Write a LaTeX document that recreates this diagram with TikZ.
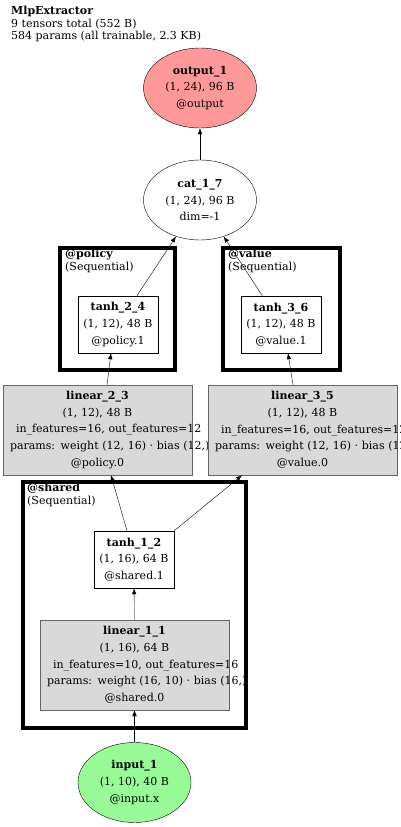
\documentclass[tikz,border=0pt]{standalone}
\usepackage{fontspec}
\setmainfont{DejaVu Serif}
\usetikzlibrary{arrows.meta,shapes.geometric}
\definecolor{OutRed}{HTML}{FF9999}
\definecolor{InGreen}{HTML}{98FB98}
\definecolor{LayerGray}{HTML}{D9D9D9}
\definecolor{LayerEdge}{HTML}{666666}
\newcommand{\rowtext}[2][0pt]{\mbox{\hspace*{#1}#2}}

\begin{document}
\begin{tikzpicture}[x=1pt, y=-1pt,
  every node/.append style={font=\fontsize{11}{16.7}\selectfont},
  tensor/.style={ellipse, draw, thin, minimum width=113pt, minimum height=80pt,
    align=center, inner sep=1pt},
  opbox/.style={draw, fill=white, minimum width=80pt, minimum height=57pt,
    align=center, inner sep=2pt},
  layerbox/.style={draw=LayerEdge, fill=LayerGray, minimum width=189pt,
    minimum height=90pt, text width=175pt, inner xsep=7pt, align=center},
  group/.style={draw, line width=4pt},
  grouplabel/.style={anchor=north west, align=left, inner sep=0pt,
    font=\fontsize{11}{12.5}\selectfont},
  edge/.style={-{Latex[length=6pt,width=4.5pt]}, thin}
]
  \useasboundingbox (0,0) rectangle (400,827);

  % title
  \node[grouplabel] (title) at (11,6)
    {\textbf{MlpExtractor}\\9 tensors total (552 B)\\584 params (all trainable, 2.3 KB)};

  % submodules
  \node[group, minimum width=115pt, minimum height=122pt] (policy) at (117.5,309) {};
  \node[group, minimum width=117pt, minimum height=122pt] (value) at (281.5,309) {};
  \node[group, minimum width=223pt, minimum height=246pt] (shared) at (134.5,605) {};
  \node[grouplabel] (policylbl) at ([xshift=7pt,yshift=-3pt]policy.north west)
    {\textbf{@policy}\\(Sequential)};
  \node[grouplabel] (valuelbl) at ([xshift=7pt,yshift=-3pt]value.north west)
    {\textbf{@value}\\(Sequential)};
  \node[grouplabel] (sharedlbl) at ([xshift=6pt,yshift=-3pt]shared.north west)
    {\textbf{@shared}\\(Sequential)};

  % tensors
  \node[tensor, fill=OutRed] (out) at (200,88)
    {\textbf{output\_1}\\(1, 24), 96 B\\@output};
  \node[tensor, fill=white] (cat) at (200,200)
    {\textbf{cat\_1\_7}\\(1, 24), 96 B\\dim=-1};
  \node[opbox] (tanh24) at (118,324.5)
    {\textbf{tanh\_2\_4}\\(1, 12), 48 B\\@policy.1};
  \node[opbox] (tanh36) at (281,324.5)
    {\textbf{tanh\_3\_6}\\(1, 12), 48 B\\@value.1};
  \node[layerbox] (lin23) at (97.5,430)
    {\textbf{linear\_2\_3}\\(1, 12), 48 B\\\rowtext[6pt]{in\_features=16, out\_features=12}\\
     \rowtext{params: weight (12, 16) · bias (12,)}\\@policy.0};
  \node[layerbox] (lin35) at (302.5,430)
    {\textbf{linear\_3\_5}\\(1, 12), 48 B\\\rowtext[6pt]{in\_features=16, out\_features=12}\\
     \rowtext{params: weight (12, 16) · bias (12,)}\\@value.0};
  \node[opbox] (tanh12) at (134,559.5)
    {\textbf{tanh\_1\_2}\\(1, 16), 64 B\\@shared.1};
  \node[layerbox] (lin11) at (134.5,665)
    {\textbf{linear\_1\_1}\\(1, 16), 64 B\\\rowtext[6pt]{in\_features=10, out\_features=16}\\
     \rowtext{params: weight (16, 10) · bias (16,)}\\@shared.0};
  \node[tensor, fill=InGreen] (in) at (134.5,782.5)
    {\textbf{input\_1}\\(1, 10), 40 B\\@input.x};

  % data flow
  \draw[edge] (in) -- (lin11);
  \draw[edge] (lin11) -- (tanh12);
  \draw[edge] ([xshift=-7pt]tanh12.north) -- ([xshift=13.5pt]lin23.south);
  \draw[edge] (tanh12.north east) -- ([xshift=-60.5pt]lin35.south);
  \draw[edge] ([xshift=9.5pt]lin23.north) -- ([xshift=-7pt]tanh24.south);
  \draw[edge] ([xshift=-9.5pt]lin35.north) -- ([xshift=7pt]tanh36.south);
  \draw[edge] (tanh24) -- (cat);
  \draw[edge] (tanh36) -- (cat);
  \draw[edge] (cat) -- (out);
\end{tikzpicture}
\end{document}
